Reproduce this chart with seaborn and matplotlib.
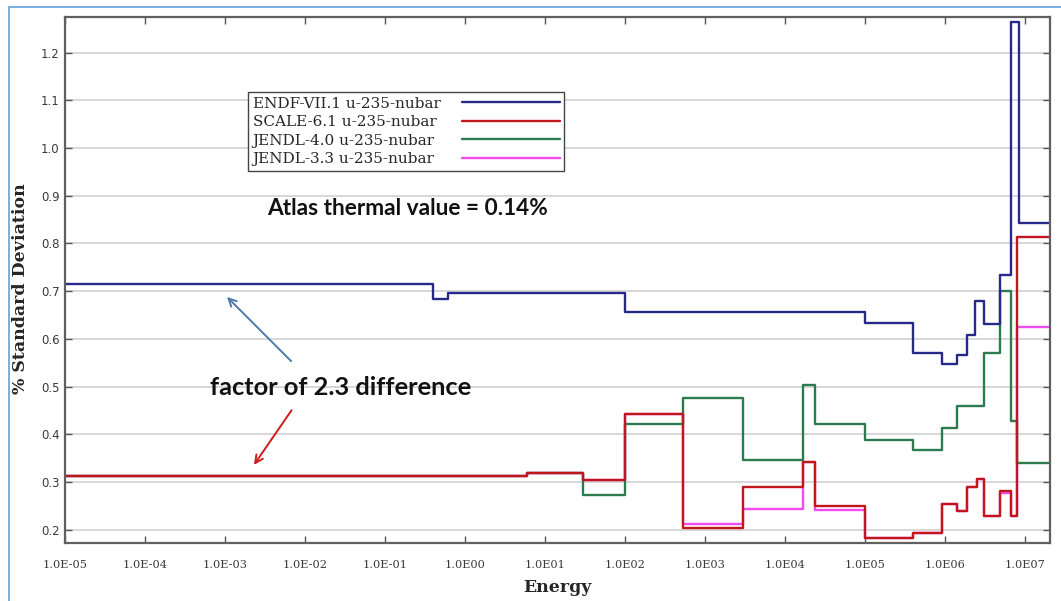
import numpy as np
import pandas as pd
import matplotlib
matplotlib.use("Agg")
import matplotlib.pyplot as plt
from matplotlib.lines import Line2D
import seaborn as sns

# ---------------- data (group edges in eV, % std. deviation) ----------------
endf_edges = [1e-5, 0.40, 0.62, 100, 1e5, 4.0e5, 9.1e5, 1.4e6, 1.86e6, 2.37e6,
              3.1e6, 4.8e6, 6.6e6, 8.3e6, 2.05e7]
endf_vals = [0.715, 0.683, 0.695, 0.656, 0.634, 0.571, 0.547, 0.567, 0.608,
             0.679, 0.631, 0.733, 1.265, 0.842]

scale_edges = [1e-5, 5.9, 30, 100, 525, 3000, 1.7e4, 2.4e4, 1e5, 4e5, 9.1e5,
               1.4e6, 1.86e6, 2.5e6, 3.1e6, 4.8e6, 6.6e6, 7.9e6, 2.05e7]
scale_vals = [0.312, 0.319, 0.305, 0.442, 0.203, 0.289, 0.342, 0.250, 0.183,
              0.193, 0.254, 0.240, 0.289, 0.306, 0.229, 0.282, 0.229, 0.814]

jendl4_edges = [1e-5, 5.9, 30, 100, 525, 3000, 1.7e4, 2.4e4, 1e5, 4e5, 9.1e5,
                1.4e6, 3.1e6, 4.8e6, 6.6e6, 7.9e6, 2.05e7]
jendl4_vals = [0.312, 0.319, 0.272, 0.422, 0.475, 0.347, 0.504, 0.422, 0.387,
               0.366, 0.413, 0.460, 0.570, 0.700, 0.428, 0.339]

jendl3_edges = [1e-5, 5.9, 30, 100, 525, 3000, 1.7e4, 2.4e4, 1e5, 4e5, 9.1e5,
                1.4e6, 1.86e6, 2.5e6, 3.1e6, 4.8e6, 6.6e6, 7.9e6, 2.05e7]
jendl3_vals = [0.312, 0.319, 0.305, 0.442, 0.211, 0.244, 0.342, 0.242, 0.183,
               0.193, 0.254, 0.240, 0.289, 0.306, 0.229, 0.276, 0.229, 0.625]

series_labels = ["ENDF-VII.1 u-235-nubar", "SCALE-6.1 u-235-nubar",
                 "JENDL-4.0 u-235-nubar", "JENDL-3.3 u-235-nubar"]
xtick_vals = [1e-5, 1e-4, 1e-3, 1e-2, 1e-1, 1e0, 1e1, 1e2, 1e3, 1e4, 1e5, 1e6, 1e7]
xtick_labels = ["1.0E-05", "1.0E-04", "1.0E-03", "1.0E-02", "1.0E-01", "1.0E00",
                "1.0E01", "1.0E02", "1.0E03", "1.0E04", "1.0E05", "1.0E06", "1.0E07"]
ytick_vals = [0.2, 0.3, 0.4, 0.5, 0.6, 0.7, 0.8, 0.9, 1.0, 1.1, 1.2]

colors = {"ENDF-VII.1 u-235-nubar": "#27298a",
          "SCALE-6.1 u-235-nubar": "#c2161d",
          "JENDL-4.0 u-235-nubar": "#2b7a50",
          "JENDL-3.3 u-235-nubar": "#f04cf0"}


def step_frame(edges, vals, name):
    return pd.DataFrame({"energy": edges,
                         "value": list(vals) + [vals[-1]],
                         "series": name})


frames = {
    series_labels[0]: step_frame(endf_edges, endf_vals, series_labels[0]),
    series_labels[1]: step_frame(scale_edges, scale_vals, series_labels[1]),
    series_labels[2]: step_frame(jendl4_edges, jendl4_vals, series_labels[2]),
    series_labels[3]: step_frame(jendl3_edges, jendl3_vals, series_labels[3]),
}

sns.set_theme(style="white")
plt.rcParams["font.family"] = ["DejaVu Sans"]

DPI = 100
fig = plt.figure(figsize=(10.61, 6.01), dpi=DPI)
ax = fig.add_axes([65 / 1061, 1 - 543 / 601, (1050 - 65) / 1061, (543 - 16.8) / 601])
ax.set_xscale("log")

draw_order = [series_labels[3], series_labels[2], series_labels[1], series_labels[0]]
for name in draw_order:
    sns.lineplot(data=frames[name], x="energy", y="value", ax=ax,
                 drawstyle="steps-post", estimator=None, sort=False,
                 color=colors[name], lw=1.7, legend=False)

ax.set_xlim(1e-5, 2.05e7)
ax.set_ylim(0.172, 1.275)
ax.set_xticks(xtick_vals)
ax.set_xticklabels(xtick_labels, family="DejaVu Serif", fontsize=8.2, color="#3a3a3a")
ax.minorticks_off()
ax.set_yticks(ytick_vals)
ax.set_yticklabels([f"{v:.1f}" for v in ytick_vals], family="DejaVu Sans",
                   fontsize=8.5, color="#3a3a3a")
ax.tick_params(axis="x", direction="in", length=5, width=1, top=True, bottom=True,
               color="#555555", pad=12)
ax.tick_params(axis="y", direction="in", length=5, width=1, left=True, right=True,
               color="#555555", pad=4)
ax.yaxis.grid(True, color="#d4d4d4", lw=1.3)
ax.xaxis.grid(False)
ax.set_axisbelow(True)
for sp in ax.spines.values():
    sp.set_color("#606060")
    sp.set_linewidth(1.6)

ax.set_xlabel("Energy", family="DejaVu Serif", fontweight="bold", fontsize=12.5,
              va="center")
ax.xaxis.set_label_coords((557 - 65) / 985, (543 - 587) / 526.2)
ax.set_ylabel("% Standard Deviation", family="DejaVu Serif", fontweight="bold",
              fontsize=12.5, va="center")
ax.yaxis.set_label_coords((21 - 65) / 985, (543 - 289) / 526.2)

handles = [Line2D([], [], color=colors[n], lw=1.7) for n in series_labels]
leg = ax.legend(handles, series_labels, loc="upper left",
                bbox_to_anchor=(248 / 1061, 1 - 92 / 601), bbox_transform=fig.transFigure,
                markerfirst=False, frameon=True, fancybox=False, framealpha=1,
                edgecolor="#444444", prop=dict(family="DejaVu Serif", size=11),
                handlelength=6.4, handletextpad=1.4, borderaxespad=0, labelspacing=0.3,
                borderpad=0.3)
leg.get_frame().set_linewidth(1.0)

# left-align the legend texts while keeping handles in one column on the right
try:
    fig.canvas.draw()
    renderer = fig.canvas.get_renderer()
    widths = [t.get_window_extent(renderer).width for t in leg.texts]
    maxw = max(widths)
    column = leg._legend_handle_box.get_children()[0]
    for item, w in zip(column.get_children(), widths):
        item.sep = item.sep + (maxw - w) * 72.0 / DPI
except Exception:
    pass

# annotations
ax.text(0.19, 0.874, "Atlas thermal value = 0.14%", family="Lato", fontweight="bold",
        fontsize=16.3, ha="center", va="center", color="#111111")
ax.text(0.0275, 0.497, "factor of 2.3 difference", family="Lato", fontweight="bold",
        fontsize=18.3, ha="center", va="center", color="#111111")
ax.annotate("", xy=(1.0e-3, 0.692), xytext=(7.1e-3, 0.549),
            arrowprops=dict(arrowstyle="->", color="#4f79ad", lw=1.4,
                            mutation_scale=14))
ax.annotate("", xy=(2.2e-3, 0.331), xytext=(7.1e-3, 0.455),
            arrowprops=dict(arrowstyle="->", color="#d11a1a", lw=1.4,
                            mutation_scale=14))

# slide frame lines
fig.add_artist(Line2D([9 / 1061, 9 / 1061], [0, 1 - 7 / 601], transform=fig.transFigure,
                      color="#6fa8dc", lw=1.3))
fig.add_artist(Line2D([9 / 1061, 1], [1 - 7 / 601, 1 - 7 / 601], transform=fig.transFigure,
                      color="#6fa8dc", lw=1.3))

fig.savefig("out.png", dpi=DPI)
